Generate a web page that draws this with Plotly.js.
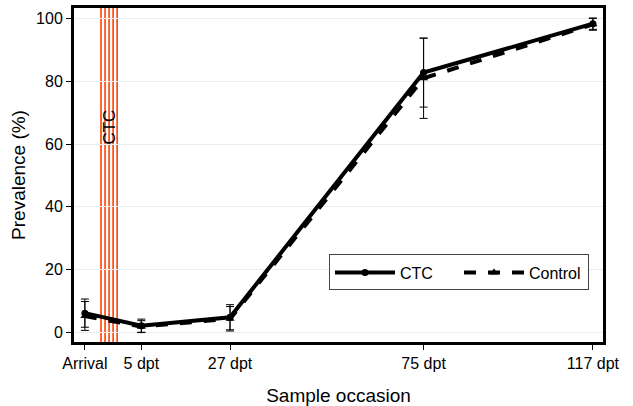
<!DOCTYPE html>
<html>
<head>
<meta charset="utf-8">
<script src="https://cdn.plot.ly/plotly-3.0.1.min.js"></script>
<style>html,body{margin:0;padding:0;background:#fff;}#chart{width:633px;height:406px;}</style>
</head>
<body>
<div id="chart"></div>
<script>
// Sample occasion (days post treatment; Arrival placed before treatment)
var occasionDays = [-9, 5, 27, 75, 117];
var occasionLabels = ["Arrival", "5 dpt", "27 dpt", "75 dpt", "117 dpt"];
// Prevalence (%)
var ctcPrev = [6.1, 2.1, 4.8, 82.8, 98.4];
var ctcErr = [4.5, 2.1, 4.0, 11.0, 1.8];
var controlPrev = [5.2, 1.8, 4.3, 81.0, 98.2];
var controlErr = [4.6, 1.9, 3.9, 12.8, 1.9];
// Treatment days (CTC)
var treatmentDays = [-5, -4, -3, -2, -1];
var yTicks = [0, 20, 40, 60, 80, 100];

var font = "Liberation Sans, Arial, sans-serif";

var traces = [
  {
    x: occasionDays, y: ctcPrev, name: "CTC", type: "scatter", mode: "lines+markers",
    line: {color: "#000", width: 4},
    marker: {symbol: "circle", size: 7, color: "#000"},
    error_y: {type: "data", array: ctcErr, visible: true, color: "#000", thickness: 1, width: 4}
  },
  {
    x: occasionDays, y: controlPrev, name: "Control", type: "scatter", mode: "lines+markers",
    line: {color: "#000", width: 4, dash: "dash"},
    marker: {symbol: "triangle-up", size: 8, color: "#000"},
    error_y: {type: "data", array: controlErr, visible: true, color: "#000", thickness: 1, width: 4}
  }
];

var shapes = treatmentDays.map(function (d) {
  return {type: "line", xref: "x", yref: "paper", x0: d, x1: d, y0: 0, y1: 1,
          line: {color: "#ff4000", width: 1.6}, layer: "below"};
});

var layout = {
  width: 633, height: 406,
  margin: {l: 74, r: 30, t: 8, b: 64},
  paper_bgcolor: "#fff", plot_bgcolor: "#fff",
  font: {family: font, color: "#000", size: 16},
  showlegend: true,
  legend: {
    orientation: "h", x: 0.482, y: 0.262, xanchor: "left", yanchor: "top",
    bordercolor: "#444", borderwidth: 1, bgcolor: "#fff",
    font: {family: font, size: 16, color: "#000"}, itemwidth: 60,
    entrywidth: 54, entrywidthmode: "pixels"
  },
  xaxis: {
    range: [-11.7, 119.5],
    tickmode: "array", tickvals: occasionDays, ticktext: occasionLabels,
    ticks: "outside", ticklen: 5, tickwidth: 1, tickcolor: "#000",
    showgrid: false, zeroline: false,
    showline: true, linecolor: "#000", linewidth: 3, mirror: true,
    tickfont: {family: font, size: 16},
    title: {text: "Sample occasion", font: {family: font, size: 19}, standoff: 20}
  },
  yaxis: {
    range: [-3.1, 103.4],
    tickmode: "array", tickvals: yTicks,
    ticks: "outside", ticklen: 5, tickwidth: 1, tickcolor: "#000",
    showgrid: true, gridcolor: "#e6eef2", gridwidth: 1, zeroline: false,
    showline: true, linecolor: "#000", linewidth: 3, mirror: true,
    tickfont: {family: font, size: 16},
    title: {text: "Prevalence (%)", font: {family: font, size: 19}, standoff: 6}
  },
  shapes: shapes,
  annotations: [{
    x: -3, y: 65.3, xref: "x", yref: "y", text: "CTC", showarrow: false,
    textangle: -90, font: {family: font, size: 17, color: "#000"}
  }]
};

Plotly.newPlot("chart", traces, layout, {displayModeBar: false, staticPlot: true});
</script>
</body>
</html>
